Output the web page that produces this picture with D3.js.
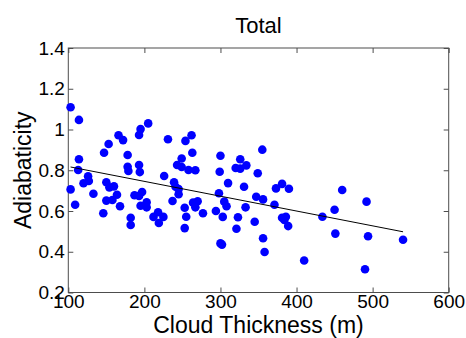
<!DOCTYPE html>
<html>
<head>
<meta charset="utf-8">
<script src="https://cdn.jsdelivr.net/npm/d3@7"></script>
<style>
  html, body { margin: 0; padding: 0; background: #fff; }
  svg { display: block; font-family: "Liberation Sans", Arial, sans-serif; }
</style>
</head>
<body>
<svg id="chart" width="466" height="338"></svg>
<script>
// Cloud thickness (m) for each sampled cloud
const thickness = [
  103, 114, 205, 195, 193, 166, 172, 153, 231, 147,
  178, 114, 249, 243, 249, 178, 193, 179, 194, 113,
  226, 126, 127, 120, 239, 241, 245, 150, 154, 160,
  103, 133, 164, 187, 197, 193, 245, 150, 158, 237,
  109, 168, 195, 203, 203, 253, 146, 218, 212, 225,
  182, 219, 182, 255, 253, 254, 262, 263, 258, 267,
  300, 355, 326, 334, 320, 326, 299, 349, 310, 331,
  373, 381, 390, 298, 305, 308, 347, 356, 371, 270,
  264, 267, 277, 294, 333, 303, 323, 321, 345, 381,
  386, 384, 389, 300, 302, 356, 358, 460, 492, 450,
  434, 451, 494, 540, 410, 490
];

// Adiabaticity for the same clouds
const adiabaticity = [
  1.109, 1.047, 1.030, 1.002, 0.973, 0.972, 0.948, 0.929, 0.952, 0.886,
  0.875, 0.854, 0.858, 0.826, 0.816, 0.817, 0.826, 0.796, 0.791, 0.801,
  0.772, 0.770, 0.747, 0.736, 0.741, 0.719, 0.708, 0.741, 0.716, 0.721,
  0.706, 0.685, 0.680, 0.677, 0.693, 0.674, 0.682, 0.651, 0.654, 0.649,
  0.631, 0.623, 0.626, 0.643, 0.618, 0.616, 0.589, 0.594, 0.571, 0.571,
  0.567, 0.541, 0.531, 0.572, 0.516, 0.944, 0.972, 0.886, 0.801, 0.800,
  0.871, 0.901, 0.854, 0.824, 0.811, 0.808, 0.793, 0.785, 0.737, 0.719,
  0.711, 0.733, 0.709, 0.687, 0.646, 0.623, 0.670, 0.657, 0.631, 0.648,
  0.641, 0.618, 0.589, 0.600, 0.618, 0.571, 0.569, 0.513, 0.547, 0.567,
  0.572, 0.556, 0.526, 0.441, 0.435, 0.466, 0.399, 0.703, 0.646, 0.606,
  0.572, 0.489, 0.476, 0.459, 0.357, 0.314
];

// Linear fit drawn across the range of the data
const fitX = [103, 540];
const fitY = [0.816, 0.498];

// Axis ticks
const xTicks = [100, 200, 300, 400, 500, 600];
const yTicks = [0.2, 0.4, 0.6, 0.8, 1.0, 1.2, 1.4];
const yTickLabels = ["0.2", "0.4", "0.6", "0.8", "1", "1.2", "1.4"];

const titleText = "Total";
const xLabel = "Cloud Thickness (m)";
const yLabel = "Adiabaticity";

const svg = d3.select("#chart");
const plot = { left: 68.3, right: 448.7, top: 48, bottom: 292.5 };

const x = d3.scaleLinear().domain([100, 600]).range([plot.left, plot.right]);
const y = d3.scaleLinear().domain([0.2, 1.4]).range([plot.bottom, plot.top]);

const axisColor = "#4d4d4d";
const tickLen = 5;

// Bottom axis with labels, ticks pointing inward
const gx = svg.append("g")
  .attr("transform", `translate(0,${plot.bottom})`)
  .call(d3.axisBottom(x).tickValues(xTicks).tickFormat(d3.format("d"))
    .tickSizeInner(-tickLen).tickSizeOuter(0).tickPadding(2));

// Left axis with labels
const gy = svg.append("g")
  .attr("transform", `translate(${plot.left},0)`)
  .call(d3.axisLeft(y).tickValues(yTicks).tickFormat((d, i) => yTickLabels[i])
    .tickSizeInner(-tickLen).tickSizeOuter(0).tickPadding(3.5));

// Mirrored ticks on top and right
const gxt = svg.append("g")
  .attr("transform", `translate(0,${plot.top})`)
  .call(d3.axisTop(x).tickValues(xTicks).tickFormat("")
    .tickSizeInner(-tickLen).tickSizeOuter(0));
const gyr = svg.append("g")
  .attr("transform", `translate(${plot.right},0)`)
  .call(d3.axisRight(y).tickValues(yTicks).tickFormat("")
    .tickSizeInner(-tickLen).tickSizeOuter(0));

[gx, gy, gxt, gyr].forEach(g => {
  g.select(".domain").remove();
  g.selectAll(".tick line").attr("stroke", axisColor).attr("stroke-width", 1);
  g.selectAll(".tick text")
    .attr("fill", "#000")
    .style("font-family", '"Liberation Sans", Arial, sans-serif')
    .style("font-size", "19px");
});

// Axes box
svg.append("rect")
  .attr("x", plot.left).attr("y", plot.top)
  .attr("width", plot.right - plot.left)
  .attr("height", plot.bottom - plot.top)
  .attr("fill", "none")
  .attr("stroke", axisColor)
  .attr("stroke-width", 1);

// Scatter points
const points = thickness.map((t, i) => ({ t, a: adiabaticity[i] }));
svg.append("g")
  .selectAll("circle")
  .data(points)
  .join("circle")
  .attr("cx", d => x(d.t))
  .attr("cy", d => y(d.a))
  .attr("r", 4.3)
  .attr("fill", "#0000ff");

// Fit line
const line = d3.line().x(d => x(d[0])).y(d => y(d[1]));
svg.append("path")
  .datum(fitX.map((v, i) => [v, fitY[i]]))
  .attr("d", line)
  .attr("fill", "none")
  .attr("stroke", "#000")
  .attr("stroke-width", 1);

// Title and axis labels
svg.append("text")
  .attr("x", (plot.left + plot.right) / 2)
  .attr("y", 33)
  .attr("text-anchor", "middle")
  .style("font-size", "22px")
  .text(titleText);

svg.append("text")
  .attr("x", (plot.left + plot.right) / 2)
  .attr("y", 333)
  .attr("text-anchor", "middle")
  .style("font-size", "23px")
  .text(xLabel);

svg.append("text")
  .attr("transform", `translate(31,${(plot.top + plot.bottom) / 2}) rotate(-90)`)
  .attr("text-anchor", "middle")
  .style("font-size", "23px")
  .text(yLabel);
</script>
</body>
</html>
